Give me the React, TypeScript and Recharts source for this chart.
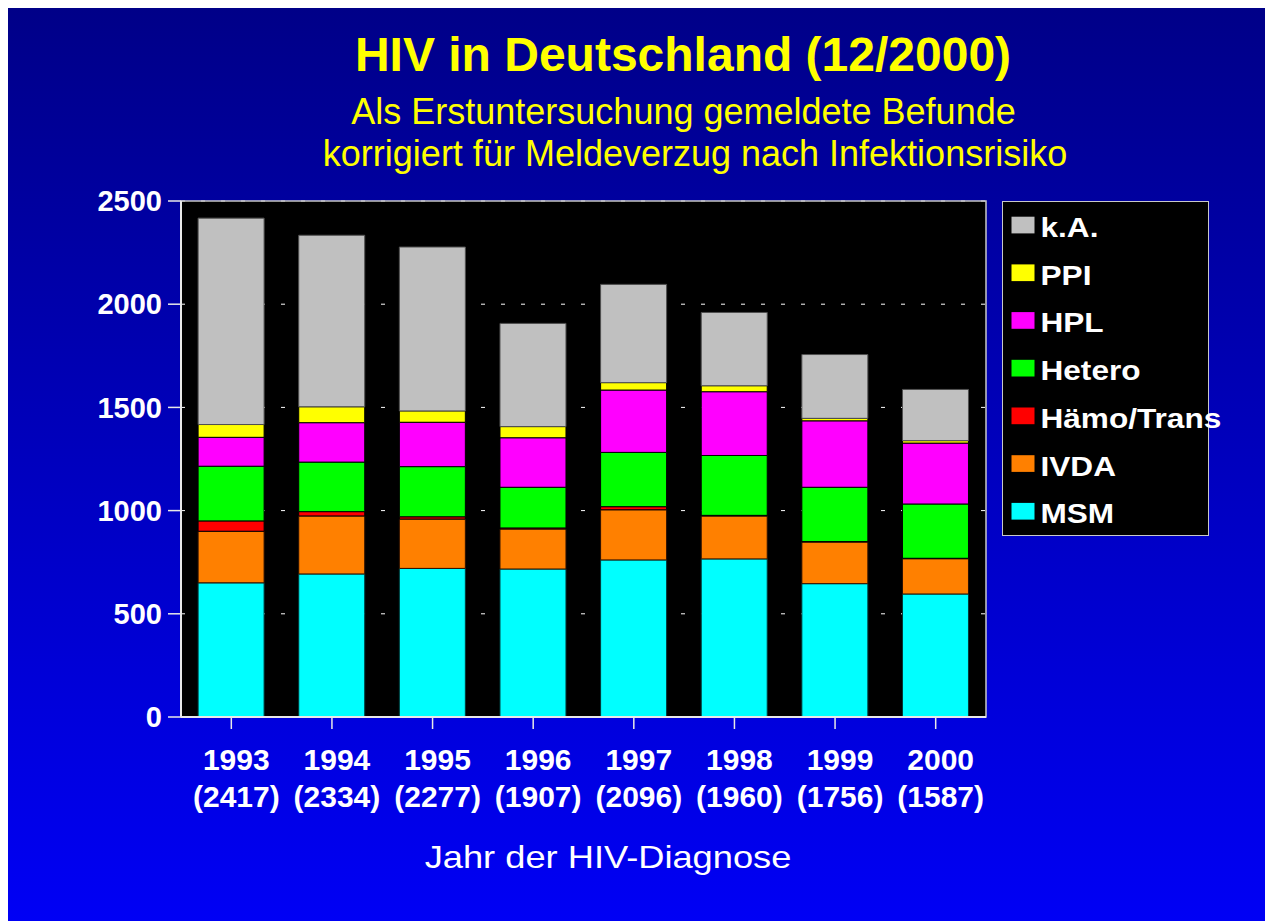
import React from 'react';
import { BarChart, Bar, XAxis, YAxis, CartesianGrid, Legend, ReferenceArea } from 'recharts';

const YEARS = ['1993', '1994', '1995', '1996', '1997', '1998', '1999', '2000'];
const TOTALS = [2417, 2334, 2277, 1907, 2096, 1960, 1756, 1587];
const MSM = [650, 693, 720, 717, 761, 766, 646, 596];
const IVDA = [250, 281, 239, 194, 243, 208, 202, 171];
const HAEMO = [50, 21, 11, 5, 15, 3, 2, 2];
const HETERO = [265, 240, 243, 197, 263, 290, 263, 263];
const HPL = [140, 191, 215, 240, 302, 309, 322, 295];
const PPI = [62, 77, 55, 54, 36, 29, 12, 12];
const KA = [1000, 831, 794, 500, 476, 355, 309, 248];
const Y_TICKS = [0, 500, 1000, 1500, 2000, 2500];

const TITLE = 'HIV in Deutschland (12/2000)';
const SUBTITLE_1 = 'Als Erstuntersuchung gemeldete Befunde';
const SUBTITLE_2 = 'korrigiert für Meldeverzug nach Infektionsrisiko';
const X_TITLE = 'Jahr der HIV-Diagnose';

const SERIES = [
  { key: 'msm', name: 'MSM', values: MSM, color: '#00FFFF', stroke: '#003838' },
  { key: 'ivda', name: 'IVDA', values: IVDA, color: '#FF8000', stroke: '#2a1000' },
  { key: 'haemo', name: 'Hämo/Trans', values: HAEMO, color: '#FF0000', stroke: '#000000' },
  { key: 'hetero', name: 'Hetero', values: HETERO, color: '#00FF00', stroke: '#000000' },
  { key: 'hpl', name: 'HPL', values: HPL, color: '#FF00FF', stroke: '#000000' },
  { key: 'ppi', name: 'PPI', values: PPI, color: '#FFFF00', stroke: '#000000' },
  { key: 'ka', name: 'k.A.', values: KA, color: '#C0C0C0', stroke: '#505050' },
];

const data = YEARS.map((year, i) => {
  const row: Record<string, number | string> = { year, total: TOTALS[i] };
  SERIES.forEach((s) => {
    row[s.key] = s.values[i];
  });
  return row;
});

const FONT = '"Liberation Sans", Arial, Helvetica, sans-serif';
const W = 1257;
const H = 913;

function XTick(props: any) {
  const { x, y, payload } = props;
  const idx = YEARS.indexOf(payload.value);
  return (
    <g transform={`translate(${x + 5},${y})`}>
      <text x={0} y={39} textAnchor="middle" fill="#FFFFFF" fontSize={30} fontWeight="bold" fontFamily={FONT}>
        {payload.value}
      </text>
      <text x={0} y={76} textAnchor="middle" fill="#FFFFFF" fontSize={30} fontWeight="bold" fontFamily={FONT}>
        {`(${TOTALS[idx]})`}
      </text>
    </g>
  );
}

function LegendBox() {
  const items = [...SERIES].reverse();
  return (
    <svg width={207} height={335} style={{ display: 'block', overflow: 'visible' }}>
      <rect x={0.5} y={0.5} width={206} height={334} fill="#000000" stroke="#C8C8C8" strokeWidth={1} />
      {items.map((s, i) => {
        const base = 36 + i * 47.7;
        return (
          <g key={s.key}>
            <rect x={9.5} y={base - 20.3} width={23} height={16.7} fill={s.color} />
            <text
              transform={`translate(38.5,${base}) scale(1.17,1)`}
              x={0}
              y={0}
              fill="#FFFFFF"
              fontSize={27}
              fontWeight="bold"
              fontFamily={FONT}
            >
              {s.name}
            </text>
          </g>
        );
      })}
    </svg>
  );
}

export default function App() {
  return (
    <div
      style={{
        position: 'absolute',
        left: 8,
        top: 8,
        width: W,
        height: H,
        overflow: 'hidden',
        background: 'linear-gradient(to bottom, #000088 0%, #0000F5 100%)',
        fontFamily: FONT,
      }}
    >
      <svg width={W} height={H} style={{ position: 'absolute', left: 0, top: 0, pointerEvents: 'none' }}>
        <text x={675} y={63} textAnchor="middle" fill="#FFFF00" fontSize={48} fontWeight="bold" fontFamily={FONT}>
          {TITLE}
        </text>
        <text x={675.5} y={116} textAnchor="middle" fill="#FFFF00" fontSize={36} fontFamily={FONT}>
          {SUBTITLE_1}
        </text>
        <text x={687} y={158} textAnchor="middle" fill="#FFFF00" fontSize={36} fontFamily={FONT}>
          {SUBTITLE_2}
        </text>
        <text
          transform={`translate(600,860) scale(1.17,1)`}
          x={0}
          y={0}
          textAnchor="middle"
          fill="#FFFFFF"
          fontSize={31}
          fontFamily={FONT}
        >
          {X_TITLE}
        </text>
      </svg>
      <div style={{ position: 'absolute', left: 0, top: 0 }}>
        <BarChart
          width={W}
          height={H}
          data={data}
          margin={{ top: 193, right: 279, bottom: 104, left: 0 }}
          barCategoryGap="17%"
        >
          <CartesianGrid vertical={false} stroke="#FFFFFF" strokeDasharray="4 16" fill="#000000" fillOpacity={1} />
          <XAxis
            dataKey="year"
            height={100}
            interval={0}
            axisLine={{ stroke: '#E8E8E8', strokeWidth: 2 }}
            tickLine={{ stroke: '#E8E8E8', strokeWidth: 1.5 }}
            tickSize={12}
            tickMargin={2}
            tick={<XTick />}
          />
          <YAxis
            width={173}
            domain={[0, 2500]}
            ticks={Y_TICKS}
            interval={0}
            axisLine={{ stroke: '#E8E8E8', strokeWidth: 2 }}
            tickLine={{ stroke: '#E8E8E8', strokeWidth: 1.5 }}
            tickSize={13}
            tickMargin={6}
            tick={{ fill: '#FFFFFF', fontSize: 29, fontWeight: 'bold', fontFamily: FONT }}
          />
          <ReferenceArea y1={0} y2={2500} fill="none" stroke="#C8C8C8" strokeWidth={1.5} ifOverflow="visible" />
          {SERIES.map((s) => (
            <Bar
              key={s.key}
              dataKey={s.key}
              name={s.name}
              stackId="a"
              fill={s.color}
              stroke={s.stroke}
              strokeWidth={1}
              isAnimationActive={false}
            />
          ))}
          <Legend
            layout="vertical"
            align="center"
            verticalAlign="middle"
            content={() => <LegendBox />}
            wrapperStyle={{ position: 'absolute', left: 994, top: 193, width: 207, height: 335, margin: 0 }}
          />
        </BarChart>
      </div>
    </div>
  );
}
